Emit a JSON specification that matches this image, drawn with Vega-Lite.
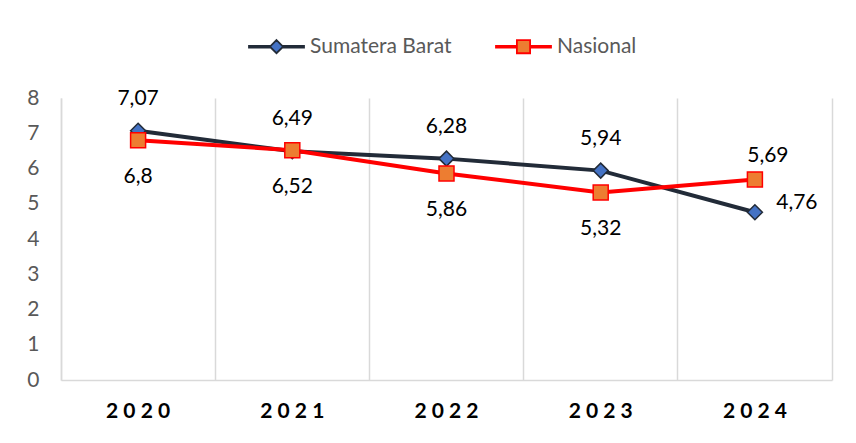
{
  "$schema": "https://vega.github.io/schema/vega-lite/v6.json",
  "width": 771,
  "height": 282,
  "autosize": "none",
  "padding": {"left": 61, "top": 98, "right": 24, "bottom": 63},
  "config": {
    "view": {"stroke": null},
    "font": "Lato",
    "locale": {"number": {"decimal": ",", "thousands": ".", "grouping": [3], "currency": ["", ""]}}
  },
  "data": {
    "values": [
      {"year": "2020", "series": "Sumatera Barat", "value": 7.07},
      {"year": "2021", "series": "Sumatera Barat", "value": 6.49},
      {"year": "2022", "series": "Sumatera Barat", "value": 6.28},
      {"year": "2023", "series": "Sumatera Barat", "value": 5.94},
      {"year": "2024", "series": "Sumatera Barat", "value": 4.76},
      {"year": "2020", "series": "Nasional", "value": 6.8},
      {"year": "2021", "series": "Nasional", "value": 6.52},
      {"year": "2022", "series": "Nasional", "value": 5.86},
      {"year": "2023", "series": "Nasional", "value": 5.32},
      {"year": "2024", "series": "Nasional", "value": 5.69}
    ]
  },
  "encoding": {
    "x": {"field": "year", "type": "ordinal", "scale": {"type": "band", "paddingInner": 0, "paddingOuter": 0}, "axis": null},
    "y": {"field": "value", "type": "quantitative", "scale": {"domain": [0, 8], "nice": false, "zero": true}, "axis": null}
  },
  "layer": [
    {
      "mark": {"type": "line", "strokeWidth": 4},
      "encoding": {
        "x": {
          "field": "year", "type": "ordinal",
          "scale": {"type": "band", "paddingInner": 0, "paddingOuter": 0},
          "axis": {
            "orient": "bottom", "title": null, "grid": false, "ticks": false,
            "domain": true, "domainColor": "#d9d9d9", "domainWidth": 1.5,
            "labelAngle": 0, "labelFont": "Lato", "labelFontSize": 21, "labelFontWeight": "bold",
            "labelColor": "#000000", "labelPadding": 20,
            "labelExpr": "substring(datum.label,0,1)+' '+substring(datum.label,1,2)+' '+substring(datum.label,2,3)+' '+substring(datum.label,3,4)"
          }
        },
        "y": {
          "field": "value", "type": "quantitative",
          "scale": {"domain": [0, 8], "nice": false, "zero": true},
          "axis": {
            "orient": "left", "title": null, "grid": false, "ticks": false,
            "domain": true, "domainColor": "#d9d9d9", "domainWidth": 1.5,
            "values": [0, 1, 2, 3, 4, 5, 6, 7, 8],
            "labelFont": "Lato", "labelFontSize": 21, "labelColor": "#595959", "labelPadding": 22
          }
        },
        "color": {
          "field": "series", "type": "nominal", "sort": "descending",
          "scale": {"range": ["#222b38", "#ff0000"]},
          "legend": null
        }
      }
    },
    {
      "mark": {"type": "point", "filled": true, "size": 225, "strokeWidth": 1.5, "opacity": 1},
      "encoding": {
        "x": {
          "field": "year", "type": "ordinal",
          "scale": {"type": "band", "paddingInner": 0, "paddingOuter": 0},
          "axis": {
            "orient": "top", "title": null, "labels": false, "ticks": false, "domain": false,
            "grid": true, "gridColor": "#d9d9d9", "gridWidth": 1.5, "bandPosition": 0
          }
        },
        "y": {
          "field": "value", "type": "quantitative",
          "scale": {"domain": [0, 8], "nice": false, "zero": true},
          "axis": {
            "orient": "right", "title": null, "labels": false, "ticks": false, "grid": false,
            "domain": true, "domainColor": "#d9d9d9", "domainWidth": 1.5
          }
        },
        "shape": {
          "field": "series", "type": "nominal", "sort": "descending",
          "scale": {"range": ["diamond", "square"]},
          "legend": null
        },
        "stroke": {
          "field": "series", "type": "nominal", "sort": "descending",
          "scale": {"range": ["#222b38", "#ff0000"]},
          "legend": null
        },
        "fill": {
          "field": "series", "type": "nominal",
          "scale": {"domain": ["Sumatera Barat", "Nasional"], "range": ["#4472c4", "#ed7d31"]},
          "legend": {
            "title": null, "orient": "none", "direction": "horizontal",
            "legendX": 187, "legendY": -80, "padding": 0,
            "symbolSize": 3025, "symbolStrokeWidth": 1.8, "symbolOpacity": 1,
            "labelFont": "Lato", "labelFontSize": 21, "labelColor": "#595959", "labelOffset": 5,
            "columnPadding": 40,
            "encode": {
              "symbols": {
                "update": {
                  "shape": {"signal": "datum.value === 'Nasional' ? 'M-1,-0.03H-0.24V0.03H-1Z M0.24,-0.03H1V0.03H0.24Z M-0.24,-0.24H0.24V0.24H-0.24Z' : 'M-1,-0.03H-0.22V0.03H-1Z M0.22,-0.03H1V0.03H0.22Z M0,-0.24L0.24,0L0,0.24L-0.24,0Z'"},
                  "stroke": {"signal": "datum.value === 'Nasional' ? '#ff0000' : '#222b38'"},
                  "strokeWidth": {"value": 1.8},
                  "opacity": {"value": 1}
                }
              }
            }
          }
        }
      }
    },
    {
      "transform": [{"filter": "datum.series === 'Sumatera Barat' && datum.year !== '2024'"}],
      "mark": {"type": "text", "dy": -32, "fontSize": 21, "font": "Lato", "color": "#000000", "baseline": "middle"},
      "encoding": {"text": {"field": "value", "type": "quantitative", "format": ".3~r"}}
    },
    {
      "transform": [{"filter": "datum.series === 'Sumatera Barat' && datum.year === '2024'"}],
      "mark": {"type": "text", "dx": 42, "dy": -9, "fontSize": 21, "font": "Lato", "color": "#000000", "baseline": "middle"},
      "encoding": {"text": {"field": "value", "type": "quantitative", "format": ".3~r"}}
    },
    {
      "transform": [{"filter": "datum.series === 'Nasional' && datum.year !== '2024'"}],
      "mark": {"type": "text", "dy": 37, "fontSize": 21, "font": "Lato", "color": "#000000", "baseline": "middle"},
      "encoding": {"text": {"field": "value", "type": "quantitative", "format": ".3~r"}}
    },
    {
      "transform": [{"filter": "datum.series === 'Nasional' && datum.year === '2024'"}],
      "mark": {"type": "text", "dx": 13, "dy": -23, "fontSize": 21, "font": "Lato", "color": "#000000", "baseline": "middle"},
      "encoding": {"text": {"field": "value", "type": "quantitative", "format": ".3~r"}}
    }
  ],
  "resolve": {"axis": {"x": "independent", "y": "independent"}}
}
